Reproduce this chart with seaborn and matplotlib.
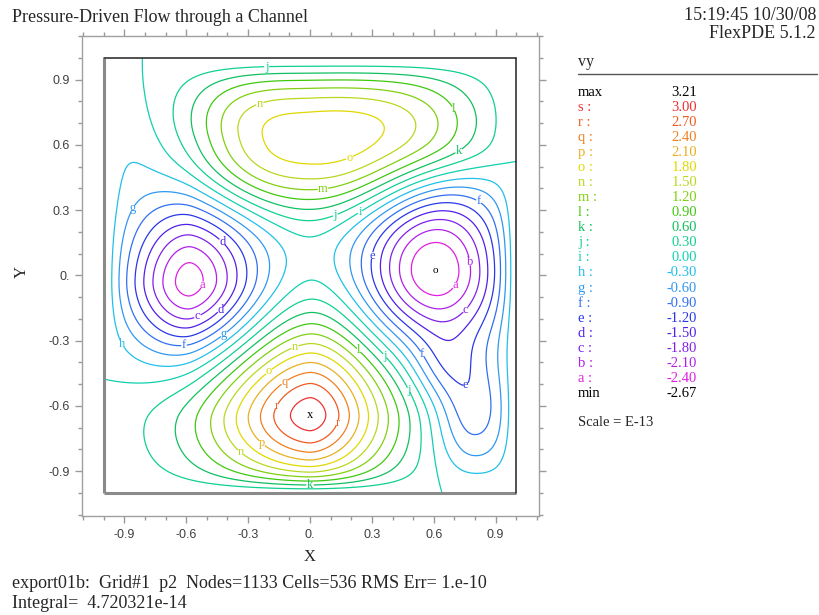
import numpy as np
import matplotlib
matplotlib.use("Agg")
import matplotlib.pyplot as plt
import seaborn as sns

# ---------------- data ----------------
level_letters = list("abcdefghijklmnopqrs")
level_values = [-2.40, -2.10, -1.80, -1.50, -1.20, -0.90, -0.60, -0.30, 0.00,
                0.30, 0.60, 0.90, 1.20, 1.50, 1.80, 2.10, 2.40, 2.70, 3.00]
level_colors = ["#e020e0", "#b020e8", "#8020e8", "#5020e8", "#2838e8", "#3070f0",
                "#3098f0", "#20c0e8", "#10d0b0", "#10d090", "#10c060", "#40c810",
                "#80d010", "#b8d820", "#e0d800", "#e8b020", "#f08020", "#f05a20",
                "#f03030"]
field_max = 3.21
field_min = -2.67

# features (extrema) of vy: centre, amplitude,
# extent on each side (left/right, below/above) and profile shape
bump_x = [0.00, -0.02, 0.62, -0.58, 0.60, 0.79, 0.64, -0.92]
bump_y = [-0.64, 0.62, 0.63, -0.04, 0.02, -0.64, -0.42, 0.60]
bump_amp = [3.20, 2.00, 1.00, -2.70, -2.72, -1.10, -0.50, -0.20]
bump_sx_left = [0.53, 0.57, 0.32, 0.32, 0.37, 0.20, 0.16, 0.18]
bump_sx_right = [0.40, 0.57, 0.32, 0.37, 0.36, 0.25, 0.16, 0.18]
bump_sy_below = [0.36, 0.33, 0.22, 0.36, 0.36, 0.28, 0.16, 0.30]
bump_sy_above = [0.43, 0.33, 0.32, 0.42, 0.43, 0.28, 0.16, 0.30]
bump_px = [1.75, 3.0, 2.0, 1.8, 2.0, 2.0, 2.0, 2.0]
bump_py = [1.80, 2.5, 2.0, 1.8, 2.0, 2.0, 2.0, 2.0]
wall_layer = 0.08

# contour label anchor spots (where the letters sit in the reference)
label_x = [-0.21, -0.24, 0.72, 0.16, 0.71, 0.06, -0.86, 0.13, 0.25, 0.83,
           -0.44, 0.31, 0.78, -0.50, 0.71, -0.43, 0.77, -0.54, -0.41, -0.61,
           -0.96, -0.08, 0.24, 0.56, 0.35, -0.20, -0.13, 0.78, 0.49, -0.18,
           0.115, -0.24, -0.35, 0.00]
label_y = [0.965, 0.78, 0.78, 0.62, 0.59, 0.42, 0.31, 0.26, 0.28, 0.36,
           0.14, 0.09, 0.065, -0.05, -0.05, -0.16, -0.17, -0.20, -0.28, -0.33,
           -0.34, -0.31, -0.34, -0.35, -0.38, -0.44, -0.48, -0.55, -0.52, -0.59,
           -0.67, -0.78, -0.83, -0.96]

tick_values = [-0.9, -0.6, -0.3, 0.0, 0.3, 0.6, 0.9]
tick_labels = ["-0.9", "-0.6", "-0.3", "0.", "0.3", "0.6", "0.9"]
minor_values = [-1.1, -1.0, -0.8, -0.7, -0.5, -0.4, -0.2, -0.1, 0.1, 0.2,
                0.4, 0.5, 0.7, 0.8, 1.0, 1.1]
domain_x = [-1.0, 1.0]
domain_y = [-1.0, 1.0]

title_text = "Pressure-Driven Flow through a Channel"
stamp_lines = ["15:19:45 10/30/08", "FlexPDE 5.1.2"]
footer_lines = ["export01b:  Grid#1  p2  Nodes=1133 Cells=536 RMS Err= 1.e-10",
                "Integral=  4.720321e-14"]
var_name = "vy"
scale_text = "Scale = E-13"

# ---------------- build the field ----------------
g = np.linspace(-0.999, 0.999, 401)
X, Y = np.meshgrid(g, g)
F = np.zeros_like(X)
for bx, by, a, sxl, sxr, syb, sya, px, py in zip(
        bump_x, bump_y, bump_amp, bump_sx_left, bump_sx_right,
        bump_sy_below, bump_sy_above, bump_px, bump_py):
    dx = X - bx
    dy = Y - by
    sx = np.where(dx < 0, sxl, sxr)
    sy = np.where(dy < 0, syb, sya)
    F += a * np.exp(-(np.abs(dx) / sx) ** px - (np.abs(dy) / sy) ** py)
F *= np.tanh((1 - np.abs(X)) / wall_layer) * np.tanh((1 - np.abs(Y)) / wall_layer)

# ---------------- figure ----------------
sns.set_theme(style="white")
plt.rcParams["font.family"] = ["Liberation Serif", "DejaVu Serif"]

W, H = 820, 615
fig = plt.figure(figsize=(W / 100, H / 100), dpi=100)
ax = fig.add_axes([82 / W, 1 - 516 / H, 457 / W, 480 / H])

cs = ax.contour(X, Y, F, levels=level_values, colors=level_colors,
                linewidths=0.9)
lv = np.array(level_values)
labels = ax.clabel(cs, fmt=lambda v: level_letters[int(np.argmin(np.abs(lv - v)))],
                   manual=list(zip(label_x, label_y)), fontsize=9,
                   inline=True, inline_spacing=1)
for t in labels:
    t.set_fontfamily(["Liberation Serif"])
    t.set_rotation(0)

# max / min markers
imax = np.unravel_index(np.argmax(F), F.shape)
imin = np.unravel_index(np.argmin(F), F.shape)
ax.text(X[imax], Y[imax], "x", ha="center", va="center", fontsize=9,
        color="black", family="Liberation Serif")
ax.text(X[imin], Y[imin], "o", ha="center", va="center", fontsize=8,
        color="black", family="Liberation Serif")

# domain boundary
ax.plot([domain_x[0], domain_x[0]], domain_y, color="#8a8a8a", lw=2.2,
        solid_capstyle="butt")
ax.plot(domain_x, [domain_y[0], domain_y[0]], color="#8a8a8a", lw=2.2,
        solid_capstyle="butt")
ax.plot(domain_x, [domain_y[1], domain_y[1]], color="#222222", lw=1.1)
ax.plot([domain_x[1], domain_x[1]], domain_y, color="#222222", lw=1.1)

ax.set_xlim(-1.105, 1.11)
ax.set_ylim(-1.106, 1.101)
ax.set_xticks(tick_values)
ax.set_xticklabels(tick_labels)
ax.set_yticks(tick_values)
ax.set_yticklabels(tick_labels)
ax.set_xticks(minor_values, minor=True)
ax.set_yticks(minor_values, minor=True)
ax.tick_params(which="both", direction="out", color="#9a9a9a", width=1,
               top=True, right=True, bottom=True, left=True,
               labelsize=9, labelcolor="#404040", pad=4)
ax.tick_params(which="major", length=5)
ax.tick_params(which="minor", length=3)
for lab in ax.get_xticklabels() + ax.get_yticklabels():
    lab.set_fontfamily(["Liberation Sans"])
for sp in ax.spines.values():
    sp.set_color("#a0a0a0")
    sp.set_linewidth(1.0)
    sp.set_visible(True)

# axis titles
fig.text(310 / W, 1 - 557 / H, "X", ha="center", va="center", fontsize=12)
fig.text(22 / W, 1 - 272 / H, "Y", ha="center", va="center", fontsize=12,
         rotation=90)

# header / footer
fig.text(12 / W, 1 - 17 / H, title_text, ha="left", va="center", fontsize=13)
fig.text(816 / W, 1 - 16 / H, stamp_lines[0], ha="right", va="center", fontsize=13)
fig.text(816 / W, 1 - 33 / H, stamp_lines[1], ha="right", va="center", fontsize=13)
fig.text(12 / W, 1 - 584 / H, footer_lines[0], ha="left", va="center", fontsize=13)
fig.text(12 / W, 1 - 604 / H, footer_lines[1], ha="left", va="center", fontsize=13)

# legend panel
lx, vx = 578, 697
fig.text(lx / W, 1 - 62 / H, var_name, ha="left", va="center", fontsize=11.5)
fig.add_artist(plt.Line2D([lx / W, 817 / W], [1 - 74 / H, 1 - 74 / H],
                          color="#555555", lw=1.0))
row_y0, row_dy = 92.5, 15.04
rows = [("max", "%.2f" % field_max, "black")]
for L, v, c in reversed(list(zip(level_letters, level_values, level_colors))):
    rows.append((L + " :", "%.2f" % v, c))
rows.append(("min", "%.2f" % field_min, "black"))
for k, (lab, val, c) in enumerate(rows):
    yy = 1 - (row_y0 + k * row_dy) / H
    fig.text(lx / W, yy, lab, ha="left", va="center", fontsize=10.5, color=c)
    fig.text(vx / W, yy, val, ha="right", va="center", fontsize=10.5, color=c)
fig.text(lx / W, 1 - 423 / H, scale_text, ha="left", va="center", fontsize=10.5)

fig.savefig("out.png", dpi=100)
